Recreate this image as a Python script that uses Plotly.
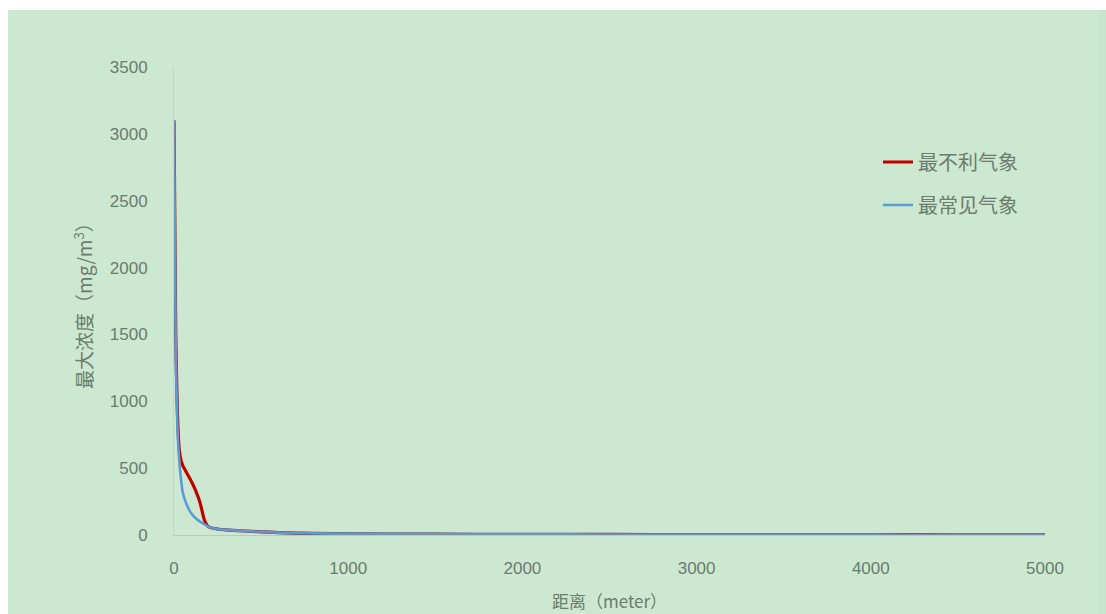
import plotly.graph_objects as go

# Distance from source (m)
distance = [0, 10, 20, 30, 40, 50, 75, 100, 125, 150, 175, 200, 250, 300, 400, 500,
            600, 800, 1000, 1500, 2000, 2500, 3000, 3500, 4000, 4500, 5000]
# Maximum concentration, worst-case meteorology (mg/m3)
worst_case = [3100, 1500, 900, 640, 560, 520, 460, 400, 330, 240, 110, 60, 45, 38, 30, 24,
              18, 12, 9, 6, 5, 4, 3.5, 3, 2.5, 2, 2]
# Maximum concentration, most common meteorology (mg/m3)
common_case = [3100, 1400, 800, 560, 420, 320, 220, 160, 125, 100, 80, 60, 45, 38, 30, 24,
               18, 12, 9, 6, 5, 4, 3.5, 3, 2.5, 2, 2]

y_ticks = [0, 500, 1000, 1500, 2000, 2500, 3000, 3500]
x_ticks = [0, 1000, 2000, 3000, 4000, 5000]

W, H = 1106, 614
ML, MR, MT, MB = 174, 61, 67, 79
pw, ph = W - ML - MR, H - MT - MB

def px_x(p):
    return (p - ML) / pw

def px_y(p):
    return (H - MB - p) / ph

CJK = "Noto Sans CJK SC"
LAT = "Liberation Sans, Noto Sans CJK SC"
GRAY = "#6b7b6e"

fig = go.Figure()
fig.add_trace(go.Scatter(
    x=distance, y=worst_case, mode="lines", name="最不利气象",
    line=dict(color="#c00000", width=3.2, shape="spline", smoothing=0.6),
    legend="legend", showlegend=True,
))
fig.add_trace(go.Scatter(
    x=distance, y=common_case, mode="lines", name="最常见气象",
    line=dict(color="#5b9bd5", width=2.6, shape="spline", smoothing=0.6),
    legend="legend2", showlegend=True,
))

# green chart panel
fig.add_shape(type="rect", xref="paper", yref="paper", layer="below",
              x0=px_x(8), x1=px_x(W + 20), y0=px_y(H + 20), y1=px_y(10),
              fillcolor="#cde8d0", line=dict(width=0))
fig.add_shape(type="rect", xref="paper", yref="paper", layer="below",
              x0=px_x(1099), x1=px_x(W + 20), y0=px_y(H + 20), y1=px_y(10),
              fillcolor="#c6e6cb", line=dict(width=0))

legend_common = dict(
    bgcolor="rgba(0,0,0,0)", font=dict(family=CJK, size=20, color=GRAY),
    xanchor="left", yanchor="middle", itemwidth=30,
)
fig.update_layout(
    width=W, height=H,
    margin=dict(l=ML, r=MR, t=MT, b=MB, autoexpand=False),
    paper_bgcolor="#cde8d0",
    plot_bgcolor="rgba(0,0,0,0)",
    showlegend=True,
    legend=dict(x=px_x(878), y=px_y(162), **legend_common),
    legend2=dict(x=px_x(878), y=px_y(205), **legend_common),
    xaxis=dict(
        range=[0, 5000], tickvals=x_ticks, showgrid=False, zeroline=False,
        showline=True, linecolor="#b9ccbb", linewidth=1, automargin=False,
        ticks="", ticklabelstandoff=18,
        tickfont=dict(family=LAT, size=17, color=GRAY),
        title=dict(text="距离（meter）", font=dict(family=CJK, size=17, color=GRAY),
                   standoff=18),
    ),
    yaxis=dict(
        range=[0, 3500], tickvals=y_ticks, showgrid=False, zeroline=False,
        showline=True, linecolor="#c3d6c5", linewidth=1, automargin=False,
        ticks="", ticklabelstandoff=22,
        tickfont=dict(family=LAT, size=17, color=GRAY),
        title=dict(text="最大浓度（mg/m<sup>3</sup>）",
                   font=dict(family=CJK, size=19, color=GRAY), standoff=12),
    ),
)

# white strips along the top and left page edges
fig.add_shape(type="rect", xref="paper", yref="paper", layer="below",
              x0=px_x(-20), x1=px_x(W + 20), y0=px_y(10), y1=px_y(-20),
              fillcolor="white", line=dict(width=0))
fig.add_shape(type="rect", xref="paper", yref="paper", layer="below",
              x0=px_x(-20), x1=px_x(8), y0=px_y(H + 20), y1=px_y(-20),
              fillcolor="white", line=dict(width=0))

fig.write_html("out.html")
